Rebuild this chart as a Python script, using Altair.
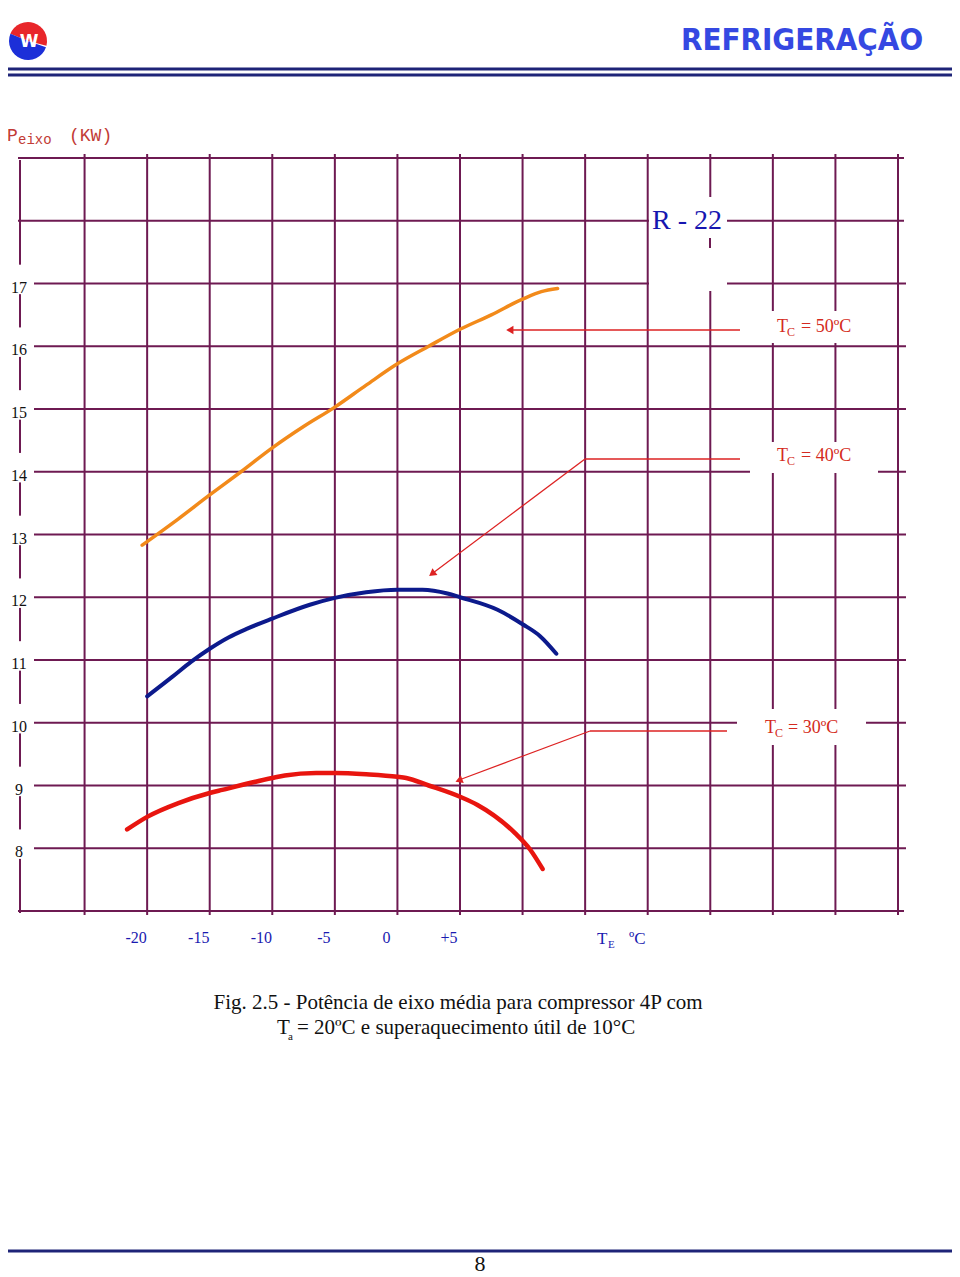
import altair as alt
import pandas as pd

# ---------------- data ----------------
# evaporating temperature T_E (degC) and shaft power P_eixo (kW)
te_50 = [-20.4, -17.5, -15, -12.5, -10, -7.5, -5, -2.5, 0, 2.5, 5, 7.5, 10, 11.5, 12.8]
p_50 = [12.83, 13.25, 13.63, 14.0, 14.38, 14.72, 15.03, 15.38, 15.72, 16.0, 16.27, 16.5, 16.75, 16.87, 16.92]

te_40 = [-20, -18, -16.5, -15, -13.5, -12, -10, -7, -5, -2.5, 0, 2, 4, 5, 8, 10, 11.4, 12.7]
p_40 = [10.42, 10.73, 10.97, 11.18, 11.36, 11.5, 11.66, 11.88, 11.99, 12.08, 12.12, 12.12, 12.06, 12.0, 11.8, 11.57, 11.38, 11.1]

te_30 = [-21.6, -20, -17.5, -15, -14, -10, -9, -6.5, -5, -2.5, 0, 0.7, 2.5, 5, 6.4, 9.4, 10.6, 11.6]
p_30 = [8.3, 8.5, 8.72, 8.88, 8.93, 9.12, 9.16, 9.2, 9.2, 9.18, 9.14, 9.12, 9.0, 8.82, 8.69, 8.24, 7.98, 7.67]

x_ticks = [-20, -15, -10, -5, 0, 5]
x_tick_labels = ["-20", "-15", "-10", "-5", "0", "+5"]
y_ticks = [8, 9, 10, 11, 12, 13, 14, 15, 16, 17]
x_grid = [-25, -20, -15, -10, -5, 0, 5, 10, 15, 20, 25, 30, 35, 40]
y_grid_labeled = y_ticks
y_grid_plain = [7, 18, 19]

# ---------------- layout helpers ----------------
OX, OY, W, H = 22, 158, 876, 753
XMIN, XMAX, YMIN, YMAX = -30, 40, 7, 19
XS = alt.Scale(domain=[XMIN, XMAX], nice=False, zero=False)
YS = alt.Scale(domain=[YMIN, YMAX], nice=False, zero=False)


def X(px):
    return XMIN + (px - OX) * (XMAX - XMIN) / W


def Y(py):
    return YMAX - (py - OY) * (YMAX - YMIN) / H


def enc_xy(xf="x", yf="y"):
    return dict(x=alt.X(f"{xf}:Q", scale=XS, axis=None), y=alt.Y(f"{yf}:Q", scale=YS, axis=None))


GRID = "#6E1A52"
RED_A = "#DD2222"
BLUE_T = "#1A1AB0"
NAVY = "#1E2478"

layers = []

# vertical grid lines
layers.append(
    alt.Chart(pd.DataFrame({"x": x_grid})).mark_rule(color=GRID, strokeWidth=2).encode(
        x=alt.X("x:Q", scale=XS, axis=None), y=alt.value(-4), y2=alt.value(757)
    )
)
# left axis line
layers.append(
    alt.Chart(pd.DataFrame({"a": [0]})).mark_rule(color=GRID, strokeWidth=2).encode(
        x=alt.value(-2), y=alt.value(2), y2=alt.value(755)
    )
)
# horizontal grid lines
layers.append(
    alt.Chart(pd.DataFrame({"y": y_grid_labeled})).mark_rule(color=GRID, strokeWidth=2).encode(
        y=alt.Y("y:Q", scale=YS, axis=None), x=alt.value(12), x2=alt.value(884)
    )
)
layers.append(
    alt.Chart(pd.DataFrame({"y": y_grid_plain})).mark_rule(color=GRID, strokeWidth=2).encode(
        y=alt.Y("y:Q", scale=YS, axis=None), x=alt.value(-4), x2=alt.value(882)
    )
)

# white gaps behind y tick labels
gap = pd.DataFrame({"lo": [v - 0.17 for v in y_ticks], "hi": [v + 0.3 for v in y_ticks]})
layers.append(
    alt.Chart(gap).mark_rect(color="white").encode(
        x=alt.value(-14), x2=alt.value(10),
        y=alt.Y("lo:Q", scale=YS, axis=None), y2="hi:Q",
    )
)

# white boxes behind annotation texts (page pixel boxes)
boxes = [(649, 197, 727, 291), (760, 311, 862, 343), (750, 442, 878, 473), (737, 709, 866, 745)]
bdf = pd.DataFrame({
    "x": [X(b[0]) for b in boxes], "x2": [X(b[2]) for b in boxes],
    "y": [Y(b[1]) for b in boxes], "y2": [Y(b[3]) for b in boxes],
})
layers.append(
    alt.Chart(bdf).mark_rect(color="white").encode(
        x=alt.X("x:Q", scale=XS, axis=None), x2="x2:Q",
        y=alt.Y("y:Q", scale=YS, axis=None), y2="y2:Q",
    )
)
# little grid dash left inside the R-22 box
layers.append(
    alt.Chart(pd.DataFrame({"x": [X(710)], "y": [Y(238)], "y2": [Y(248)]})).mark_rule(color=GRID, strokeWidth=2).encode(
        x=alt.X("x:Q", scale=XS, axis=None), y=alt.Y("y:Q", scale=YS, axis=None), y2="y2:Q"
    )
)

# arrows (leader lines)
segs = [
    (740, 330, 512, 330),
    (740, 459, 585, 459), (585, 459, 433, 573),
    (727, 731, 590, 731), (590, 731, 459, 780),
]
sdf = pd.DataFrame({
    "x": [X(s[0]) for s in segs], "y": [Y(s[1]) for s in segs],
    "x2": [X(s[2]) for s in segs], "y2": [Y(s[3]) for s in segs],
})
layers.append(
    alt.Chart(sdf).mark_rule(color=RED_A, strokeWidth=1.3).encode(
        x=alt.X("x:Q", scale=XS, axis=None), y=alt.Y("y:Q", scale=YS, axis=None), x2="x2:Q", y2="y2:Q"
    )
)
for hx, hy, ang in [(511, 330, 270), (433, 573, 233), (460, 780, 249)]:
    layers.append(
        alt.Chart(pd.DataFrame({"x": [X(hx)], "y": [Y(hy)]})).mark_point(
            shape="triangle", filled=True, color=RED_A, opacity=1, size=70, angle=ang
        ).encode(**enc_xy())
    )

# curves
for te, p, col, sw in [
    (te_50, p_50, "#F28A1A", 3.5),
    (te_40, p_40, "#0C1A8C", 4),
    (te_30, p_30, "#E8150F", 4.5),
]:
    layers.append(
        alt.Chart(pd.DataFrame({"x": te, "y": p})).mark_line(
            color=col, strokeWidth=sw, interpolate="monotone", strokeCap="round"
        ).encode(**enc_xy())
    )


def text_layer(rows, size, color, font, align="left", baseline="alphabetic", weight="normal", style="normal"):
    df = pd.DataFrame({
        "x": [X(r[0]) for r in rows], "y": [Y(r[1]) for r in rows], "t": [r[2] for r in rows]
    })
    return alt.Chart(df).mark_text(
        align=align, baseline=baseline, fontSize=size, color=color, font=font,
        fontWeight=weight, fontStyle=style
    ).encode(text="t:N", **enc_xy())


SERIF = "Liberation Serif"

# y tick labels
layers.append(
    alt.Chart(pd.DataFrame({"v": y_ticks, "x": [X(19)] * len(y_ticks)})).mark_text(
        fontSize=16, font=SERIF, color="#111111", baseline="middle", align="center", dy=4
    ).encode(x=alt.X("x:Q", scale=XS, axis=None), y=alt.Y("v:Q", scale=YS, axis=None), text="v:N")
)
# x tick labels
layers.append(
    alt.Chart(pd.DataFrame({"x": x_ticks, "lab": x_tick_labels, "y": [Y(938)] * len(x_ticks)})).mark_text(
        fontSize=16, font=SERIF, color=BLUE_T, baseline="middle", align="center", dx=-11
    ).encode(x=alt.X("x:Q", scale=XS, axis=None), y=alt.Y("y:Q", scale=YS, axis=None), text="lab:N")
)
# axis titles
layers.append(text_layer([(7, 141, "P"), (69, 141, "(KW)")], 18, "#C23B36", "Liberation Mono"))
layers.append(text_layer([(18, 144, "eixo")], 14, "#C23B36", "Liberation Mono"))
layers.append(text_layer([(597, 944, "T"), (629, 944, "ºC")], 17, BLUE_T, SERIF))
layers.append(text_layer([(608, 948, "E")], 11, BLUE_T, SERIF))

# R-22 label
layers.append(text_layer([(687, 229, "R - 22")], 28, "#1616B0", SERIF, align="center"))

# T_C labels
layers.append(text_layer([(777, 332, "T"), (801, 332, "= 50ºC"),
                          (777, 461, "T"), (801, 461, "= 40ºC"),
                          (765, 733, "T"), (788, 733, "= 30ºC")], 18, "#D42A20", SERIF))
layers.append(text_layer([(787, 336, "C"), (787, 465, "C"), (775, 737, "C")], 12, "#D42A20", SERIF))

# caption
layers.append(text_layer([(458, 1009, "Fig. 2.5 - Potência de eixo média para compressor 4P com")],
                         21, "#111111", SERIF, align="center"))
layers.append(text_layer([(277, 1034, "T"), (297, 1034, "= 20ºC e superaquecimento útil de 10°C")],
                         21, "#111111", SERIF))
layers.append(text_layer([(288, 1040, "a")], 11, "#111111", SERIF))

# page header / footer
hr = pd.DataFrame({"x": [X(3)] * 3, "x2": [X(955)] * 3, "y": [Y(69), Y(75), Y(1251)]})
layers.append(
    alt.Chart(hr).mark_rule(color=NAVY, strokeWidth=3).encode(
        x=alt.X("x:Q", scale=XS, axis=None), x2="x2:Q", y=alt.Y("y:Q", scale=YS, axis=None)
    )
)
layers.append(text_layer([(802, 50, "REFRIGERAÇÃO")], 31, "#3548E2",
                         "DejaVu Sans Condensed, Liberation Sans, sans-serif",
                         align="center", weight="bold"))
layers.append(text_layer([(480, 1271, "8")], 22, "#111111", SERIF, align="center"))

# logo
LX, LY = 28 - OX, 41 - OY
layers.append(
    alt.Chart(pd.DataFrame({"a": [0]})).mark_arc(radius=19, theta=5.1, theta2=8.1, color="#E8262A").encode(
        x=alt.value(LX), y=alt.value(LY)
    )
)
layers.append(
    alt.Chart(pd.DataFrame({"a": [0]})).mark_arc(radius=19, theta=1.9, theta2=5.1, color="#1C2FD8").encode(
        x=alt.value(LX), y=alt.value(LY)
    )
)
layers.append(text_layer([(29, 47, "W")], 17, "white", "DejaVu Sans", align="center", weight="bold"))

chart = alt.layer(*layers).properties(
    width=W, height=H,
    padding={"left": 14, "top": 150, "right": 54, "bottom": 365},
    autosize=alt.AutoSizeParams(type="none"),
    background="white",
).configure_view(stroke=None)

chart.save("out.html", embed_options={"renderer": "svg", "actions": False})
